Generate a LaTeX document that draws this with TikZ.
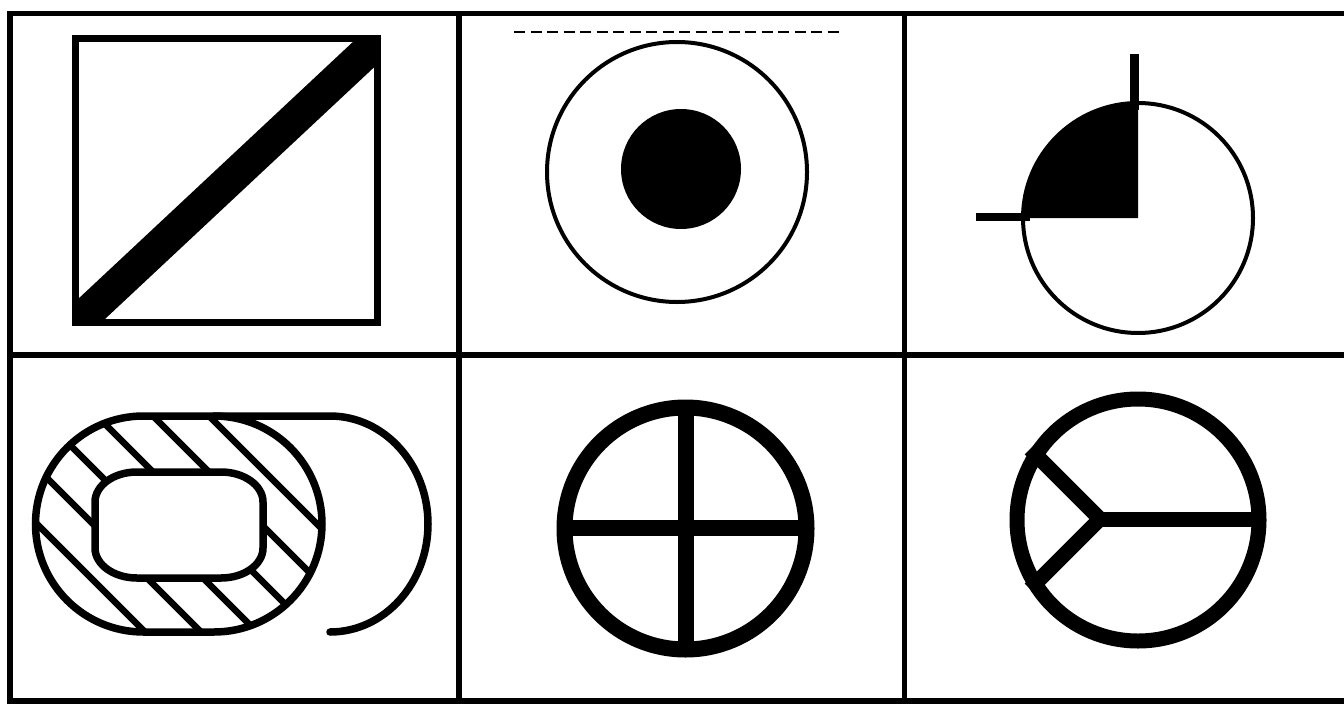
\documentclass[tikz,border=0pt]{standalone}
\begin{document}
\begin{tikzpicture}[x=1pt,y=-1pt,line join=miter]
\tikzset{
  gridline/.style={line width=5.5pt,black},
  cellfour/.style={line width=7.5pt,black},
  hatchline/.style={line width=6.5pt,black},
  thickring/.style={line width=16pt,black},
}
\useasboundingbox (0,0) rectangle (1344,704);
\fill[white] (0,0) rectangle (1344,704);
% ---------- grid ----------
\draw[gridline] (7.5,13.5) -- (1344,13.5);
\draw[gridline] (7.5,701) -- (1344,701);
\draw[gridline] (7.5,355) -- (1344,355);
\draw[gridline] (10,11) -- (10,704);
\draw[gridline] (459,11) -- (459,704);
\draw[gridline] (904.5,11) -- (904.5,704);
% ---------- cell 1: square with diagonal band ----------
\begin{scope}
  \clip (75.5,38.5) rectangle (377.5,322.5);
  \draw[line width=33pt] (60,338.5) -- (393,27);
\end{scope}
\draw[line width=7pt] (75.5,38.5) rectangle (377.5,322.5);
% ---------- cell 2: ring with dot ----------
\draw[line width=1.5pt,dash pattern=on 11pt off 5.5pt] (514,32) -- (843,32);
\draw[line width=4pt] (677,172) circle[radius=130];
\fill (681,169) circle[radius=60];
% ---------- cell 3: circle with filled quadrant ----------
\fill (1138,218) -- (1023,218) arc[start angle=180,end angle=270,radius=115] -- cycle;
\draw[line width=4pt] (1138,218) circle[radius=115];
\draw[line width=9pt] (1134.5,54) -- (1134.5,110);
\draw[line width=8pt] (976,216.5) -- (1030,216.5);
% ---------- cell 4: hatched stadium ----------
\begin{scope}
  \clip (143.5,416) -- (214,416) arc[start angle=-90,end angle=90,radius=108]
        -- (143.5,632) arc[start angle=90,end angle=270,radius=108] -- cycle;
  \foreach \c in {207,263,319,375,431,487}
    \draw[hatchline] (0,\c) -- (460,460+\c);
\end{scope}
\filldraw[cellfour,fill=white]
  (137,472) -- (221,472) arc[start angle=-90,end angle=0,x radius=42,y radius=30]
  -- (263,548) arc[start angle=0,end angle=90,x radius=42,y radius=30]
  -- (137,578) arc[start angle=90,end angle=180,x radius=42,y radius=30]
  -- (95,502) arc[start angle=180,end angle=270,x radius=42,y radius=30] -- cycle;
\draw[cellfour] (143.5,416) -- (214,416) arc[start angle=-90,end angle=90,radius=108]
  -- (143.5,632) arc[start angle=90,end angle=270,radius=108] -- cycle;
\draw[cellfour,line cap=round] (214,416) -- (330,416)
  arc[start angle=-90,end angle=90,x radius=98,y radius=108];
% ---------- cell 5: circle with cross ----------
\draw[thickring] (685.5,528.5) circle[radius=121];
\draw[thickring] (686,410) -- (686,647);
\draw[thickring] (567,527.5) -- (804,527.5);
% ---------- cell 6: circle with Y ----------
\draw[line width=15pt] (1138,520) circle[radius=121];
\draw[line width=15pt] (1030,449) -- (1100,519) -- (1030,589);
\draw[line width=15pt] (1100,519) -- (1256,519);
\end{tikzpicture}
\end{document}
